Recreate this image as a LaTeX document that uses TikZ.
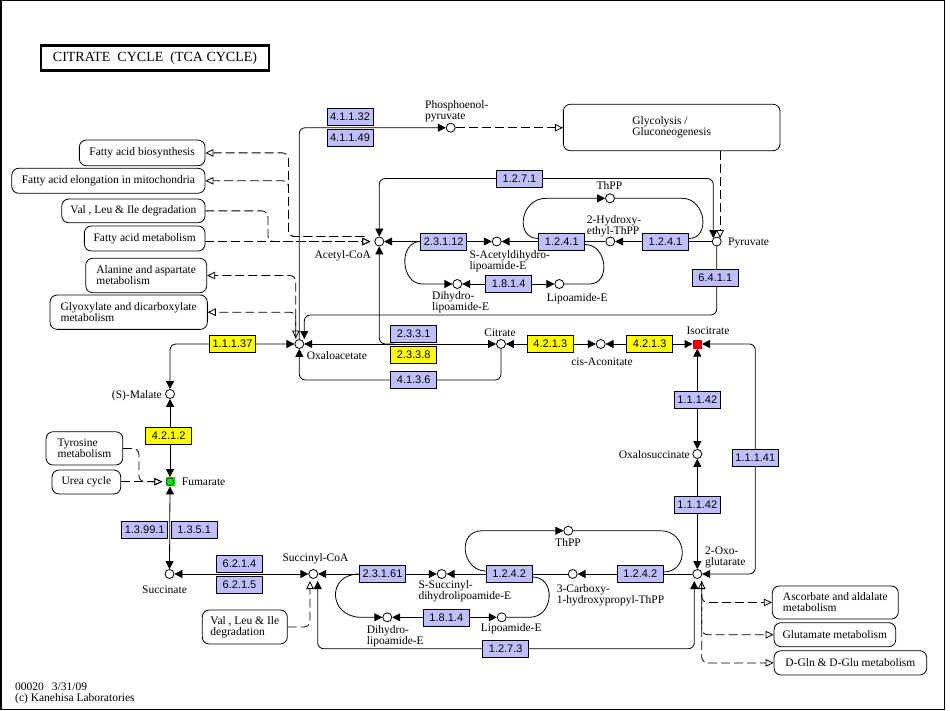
\documentclass[tikz,border=0pt]{standalone}
\usepackage{fontspec}
\setmainfont{Liberation Serif}
\newfontfamily\ecfont{Liberation Sans}
\usetikzlibrary{arrows.meta,calc}
\definecolor{ecblue}{RGB}{191,191,255}
\definecolor{ecyel}{RGB}{255,255,0}
\definecolor{fumgreen}{RGB}{0,230,0}
\definecolor{icred}{RGB}{255,0,0}
\pgfdeclarelayer{bg}
\pgfsetlayers{bg,main}
\tikzset{
 fa/.tip={Triangle[length=8pt,width=8pt]},
 oa/.tip={Triangle[open,length=8pt,width=7.5pt]},
 conn/.style={line width=0.8pt},
 dsh/.style={line width=0.8pt, dash pattern=on 9pt off 4pt},
 rc/.style={rounded corners=6pt},
 cpd/.style={circle,draw,fill=white,minimum size=9pt,inner sep=0pt,line width=0.8pt},
 hlred/.style={rectangle,fill=icred,minimum size=9pt,inner sep=0pt,
   path picture={\draw[red!45!black,line width=0.5pt] (path picture bounding box.center) circle (3.9pt);}},
 hlgreen/.style={rectangle,fill=fumgreen,minimum size=9pt,inner sep=0pt,
   path picture={\draw[black,line width=0.5pt] (path picture bounding box.center) circle (3.9pt);}},
 ec/.style={rectangle,draw,fill=ecblue,minimum width=46pt,minimum height=17pt,inner sep=0pt,line width=0.7pt,font=\ecfont\fontsize{11}{11}\selectfont},
 ecy/.style={ec,fill=ecyel},
 lbl/.style={inner sep=0pt,font=\fontsize{11.5}{11}\selectfont},
 lblm/.style={lbl,align=left},
 mapbox/.style={rectangle,draw,rounded corners=7pt,fill=white,inner sep=0pt,line width=0.8pt,align=left,font=\fontsize{11.5}{11}\selectfont},
}
\begin{document}
\begin{tikzpicture}[x=1pt,y=-1pt]
\useasboundingbox (0,0) rectangle (950,711);
\draw[line width=1.2pt] (0.9,0.9) rectangle (944.4,709.4);

% title and footer
\node[draw,line width=2.6pt,minimum width=228pt,minimum height=24.5pt,inner sep=0pt,font=\fontsize{14}{14}\selectfont] (title) at (155,58) {CITRATE\ \ CYCLE\ \ (TCA CYCLE)};
\node[lblm,anchor=north west] (foot) at (15,683) {00020\hspace{8pt}3/31/09\\(c) Kanehisa Laboratories};

% map boxes
\node[mapbox,minimum width=216.7pt,minimum height=46.4pt] (mGly) at (671.7,127.5) {Glycolysis /\\Gluconeogenesis};
\node[mapbox,minimum width=125.7pt,minimum height=25.7pt] (mFAB) at (142.2,152.9) {Fatty acid biosynthesis};
\node[mapbox,minimum width=193.3pt,minimum height=25pt] (mFAE) at (108.4,180.8) {Fatty acid elongation in mitochondria};
\node[mapbox,minimum width=143.3pt,minimum height=23.7pt] (mVLI1) at (133.4,210.9) {Val , Leu \& Ile degradation};
\node[mapbox,minimum width=120.7pt,minimum height=25pt] (mFAM) at (144.7,238.5) {Fatty acid metabolism};
\node[mapbox,minimum width=121pt,minimum height=34.4pt] (mAla) at (146.2,275.5) {Alanine and aspartate\\metabolism};
\node[mapbox,minimum width=157.3pt,minimum height=34.3pt] (mGlx) at (128.7,312.2) {Glyoxylate and dicarboxylate\\metabolism};
\node[mapbox,minimum width=76.7pt,minimum height=33.3pt] (mTyr) at (84.4,448.4) {Tyrosine\\metabolism};
\node[mapbox,minimum width=68.7pt,minimum height=24pt] (mUrea) at (86.4,482) {Urea cycle};
\node[mapbox,minimum width=85pt,minimum height=34pt] (mVLI2) at (244.8,627) {Val , Leu \& Ile\\degradation};
\node[mapbox,minimum width=126pt,minimum height=33pt] (mAsc) at (835.3,602.5) {Ascorbate and aldalate\\metabolism};
\node[mapbox,minimum width=121.7pt,minimum height=24pt] (mGlu) at (834.9,634.7) {Glutamate metabolism};
\node[mapbox,minimum width=152.7pt,minimum height=24.3pt] (mDGln) at (850.4,662.9) {D-Gln \& D-Glu metabolism};

% compounds
\node[cpd] (pep) at (450.7,127.7) {};
\node[lblm,anchor=north west] (lpep) at (425,100.5) {Phosphoenol-\\pyruvate};
\node[cpd] (accoa) at (379.3,241.5) {};
\node[lbl,anchor=base east] (laccoa) at (371,258.5) {Acetyl-CoA};
\node[cpd] (sacdl) at (496.7,241.5) {};
\node[lblm,anchor=north west] (lsacdl) at (469.3,250) {S-Acetyldihydro-\\lipoamide-E};
\node[cpd] (dhl1) at (457.3,284) {};
\node[lblm,anchor=north west] (ldhl1) at (432,291.5) {Dihydro-\\lipoamide-E};
\node[cpd] (lip1) at (559.3,284) {};
\node[lbl,anchor=base west] (llip1) at (546.7,301.5) {Lipoamide-E};
\node[cpd] (thpp1) at (610,198.3) {};
\node[lbl,anchor=base] (lthpp1) at (609.4,190) {ThPP};
\node[cpd] (heth) at (610.3,241.5) {};
\node[lblm,anchor=north west] (lheth) at (586.7,215) {2-Hydroxy-\\ethyl-ThPP};
\node[cpd] (pyr) at (716.7,241.5) {};
\node[lbl,anchor=base west] (lpyr) at (728,245.5) {Pyruvate};
\node[cpd] (oaa) at (299.3,344) {};
\node[lbl,anchor=base west] (loaa) at (306.7,359) {Oxaloacetate};
\node[cpd] (cit) at (501,344) {};
\node[lbl,anchor=base] (lcit) at (500,336) {Citrate};
\node[cpd] (cis) at (600.7,344) {};
\node[lbl,anchor=base] (lcis) at (602,365.5) {cis-Aconitate};
\node[hlred] (icit) at (697.3,344) {};
\node[lbl,anchor=base] (licit) at (708,334) {Isocitrate};
\node[cpd] (oxs) at (697.3,454) {};
\node[lbl,anchor=base east] (loxs) at (690,458) {Oxalosuccinate};
\node[cpd] (ogl) at (697.3,574) {};
\node[lblm,anchor=north west] (logl) at (705,546.7) {2-Oxo-\\glutarate};
\node[cpd] (mal) at (170,394) {};
\node[lbl,anchor=base east] (lmal) at (162,398) {(S)-Malate};
\node[hlgreen] (fum) at (170,481.7) {};
\node[lbl,anchor=base west] (lfum) at (181.7,485.5) {Fumarate};
\node[cpd] (suc) at (169.5,574) {};
\node[lbl,anchor=base] (lsuc) at (164.5,593) {Succinate};
\node[cpd] (sucoa) at (313.3,574) {};
\node[lbl,anchor=base] (lsucoa) at (315.5,561) {Succinyl-CoA};
\node[cpd] (ssdl) at (441.7,574) {};
\node[lblm,anchor=north west] (lssdl) at (418.3,580) {S-Succinyl-\\dihydrolipoamide-E};
\node[cpd] (dhl2) at (387.3,617.3) {};
\node[lblm,anchor=north west] (ldhl2) at (366.7,625) {Dihydro-\\lipoamide-E};
\node[cpd] (lip2) at (501.7,617.3) {};
\node[lbl,anchor=base west] (llip2) at (480.7,631.5) {Lipoamide-E};
\node[cpd] (thpp2) at (568.3,530.7) {};
\node[lbl,anchor=base] (lthpp2) at (568,546.5) {ThPP};
\node[cpd] (cthpp) at (572.7,574) {};
\node[lblm,anchor=north west] (lcthpp) at (556.7,584) {3-Carboxy-\\1-hydroxypropyl-ThPP};

% enzymes
\node[ec] (e41132) at (350,116.5) {4.1.1.32};
\node[ec] (e41149) at (350,137.7) {4.1.1.49};
\node[ec] (e1271) at (519.5,178.5) {1.2.7.1};
\node[ec] (e23112) at (443.7,241.5) {2.3.1.12};
\node[ec] (e1241a) at (561.8,241.5) {1.2.4.1};
\node[ec] (e1814a) at (508.7,284) {1.8.1.4};
\node[ec] (e1241b) at (665.5,241.5) {1.2.4.1};
\node[ec] (e6411) at (715.3,277.8) {6.4.1.1};
\node[ecy] (e11137) at (232.5,344) {1.1.1.37};
\node[ec] (e2331) at (413.7,334) {2.3.3.1};
\node[ecy] (e2338) at (413.7,355) {2.3.3.8};
\node[ec] (e4136) at (413.7,380) {4.1.3.6};
\node[ecy] (e4213a) at (550.3,344) {4.2.1.3};
\node[ecy] (e4213b) at (649.7,344) {4.2.1.3};
\node[ec] (e11142a) at (697.3,399.7) {1.1.1.42};
\node[ec] (e11141) at (755.3,457.7) {1.1.1.41};
\node[ec] (e11142b) at (697.3,505) {1.1.1.42};
\node[ecy] (e4212) at (168.7,435.7) {4.2.1.2};
\node[ec] (e13991) at (144.7,530) {1.3.99.1};
\node[ec] (e1351) at (194.2,530) {1.3.5.1};
\node[ec] (e6214) at (239.5,564) {6.2.1.4};
\node[ec] (e6215) at (239.5,585) {6.2.1.5};
\node[ec] (e23161) at (382.5,574) {2.3.1.61};
\node[ec] (e1242a) at (509.2,574) {1.2.4.2};
\node[ec] (e1814b) at (446.3,617.5) {1.8.1.4};
\node[ec] (e1273) at (505.7,648.7) {1.2.7.3};
\node[ec] (e1242b) at (640.3,574) {1.2.4.2};

% helper coordinates
\coordinate (pyrL) at ($(pyr)+(-3.4,-3.4)$);
\coordinate (pyrR) at ($(pyr)+(3.4,-3.4)$);
\coordinate (oaaTR) at ($(oaa)+(5,-5)$);
\coordinate (oaaTL) at ($(oaa)+(-3.5,-5.5)$);
\coordinate (accoaL) at ($(accoa.west)+(-4,0)$);
\coordinate (accoaL2) at ($(accoaL)+(-6,-5)$);
\coordinate (sucoaBR) at ($(sucoa)+(4.4,7)$);
\coordinate (sucoaBL) at ($(sucoa)+(-3.3,7)$);
\coordinate (oglBL) at ($(ogl)+(-3,7)$);
\coordinate (oglBR) at ($(ogl)+(4.4,7)$);
\coordinate (fumL) at ($(fum.west)+(-3,0)$);

\begin{pgfonlayer}{bg}
\begin{scope}[conn]
% PEP
\draw[rc,-fa] (oaa.north) |- (pep.west);
\draw[dsh,-oa] (pep.east) -- (pep.east -| mGly.west);
\draw[dsh,-oa] (mGly.south -| pyrR) -- (pyrR);
% pyruvate / acetyl-CoA
\draw[rc,fa-fa] (accoa.north) |- (e1271.center) -| (pyrL);
\draw[-fa] (pyr.west) -- (heth.east);
\draw ($(e1241b.east)+(0,-3)$) .. controls +(22,0) and +(24,0) .. ($(thpp1)+(72,0)$) -- (thpp1.east);
\draw[-fa] ($(e1241a.west)+(0,-3)$) .. controls +(-24,0) and +(-26,0) .. ($(thpp1)+(-64,0)$) -- (thpp1.west);
\draw ($(e1241a.east)+(0,3)$) .. controls +(22,0) and +(22,0) .. ($(lip1)+(30,0)$) -- (lip1.east);
\draw[-fa] (e23112.west) .. controls +(-22,0) and +(-22,0) .. ($(dhl1)+(-35,0)$) -- (dhl1.west);
\draw[fa-fa] (accoa.east) -- (sacdl.west);
\draw[-fa] (heth.west) -- (sacdl.east);
\draw[fa-fa] (dhl1.east) -- (lip1.west);
\draw[rc,-fa] (pyr.south) |- ($(oaaTR)+(0,-24)$) -- (oaaTR);
% dashed links near acetyl-CoA and oxaloacetate
\draw[dsh,-oa] (mFAM.east |- accoaL) -- (accoaL);
\draw[dsh,rc,-oa] (mVLI1.east) -| ($(accoaL)+(-102.5,0)$) -- (accoaL);
\draw[dsh,rc,-oa] (accoaL2) -| ($(mFAB.east)+(83,0)$) -- (mFAB.east);
\draw[dsh,rc,-oa] (accoaL2) -| ($(mFAE.east)+(83,0)$) -- (mFAE.east);
\draw[dsh,rc,oa-oa] (oaaTL) |- (mAla.east);
\draw[dsh,rc,-oa] (oaaTL) |- (mGlx.east);
% citrate part
\draw[fa-fa] (oaa.east) -- (cit.west);
\draw[rc,fa-] (accoa.south) |- ($(oaa)+(95,0)$);
\draw[rc,-fa] (cit.south) |- (e4136.center) -| (oaa.south);
\draw[rc,fa-fa] (oaa.west) -| (mal.north);
\draw[fa-fa] (cit.east) -- (cis.west);
\draw[fa-fa] (cis.east) -- (icit.west);
\draw[fa-fa] (icit.south) -- (oxs.north);
\draw[fa-fa] (oxs.south) -- (ogl.north);
\draw[rc,fa-fa] (icit.east) -| (e11141.center) |- (ogl.east);
% left side
\draw[fa-fa] (mal.south) -- (fum.north);
\draw[fa-fa] (fum.south) -- (suc.north);
\draw[fa-fa] (suc.east) -- (sucoa.west);
\draw[dsh,rc,-oa] (mTyr.east) -| ($(fumL)+(-23.4,0)$) -- (fumL);
\draw[dsh,-oa] (mUrea.east |- fumL) -- (fumL);
% succinyl-CoA part
\draw[fa-fa] (sucoa.east) -- (ssdl.west);
\draw[-fa] (e23161.west) .. controls +(-33,0) and +(-33,0) .. ($(dhl2)+(-26,0)$) -- (dhl2.west);
\draw[-fa] (cthpp.west) -- (ssdl.east);
\draw[-fa] ($(e1242a.west)+(0,-3)$) .. controls +(-24,0) and +(-26,0) .. ($(thpp2)+(-86,0)$) -- (thpp2.west);
\draw ($(e1242a.east)+(0,3)$) .. controls +(24,0) and +(24,0) .. ($(lip2)+(28,0)$) -- (lip2.east);
\draw[fa-fa] (dhl2.east) -- (lip2.west);
\draw[-fa] (ogl.west) -- (cthpp.east);
\draw ($(e1242b.east)+(0,-2)$) .. controls +(26,0) and +(28,0) .. ($(thpp2)+(92,0)$) -- (thpp2.east);
\draw[rc,fa-fa] (sucoaBR) |- (e1273.center) -| (oglBL);
\draw[dsh,rc,-oa] (mVLI2.east) -| (sucoaBL);
\draw[dsh,rc,oa-oa] (oglBR) |- (mDGln.west);
\draw[dsh,rc,-oa] (oglBR) |- (mGlu.west);
\draw[dsh,rc,-oa] (oglBR) |- (mAsc.west);
\end{scope}
\end{pgfonlayer}
\end{tikzpicture}
\end{document}
